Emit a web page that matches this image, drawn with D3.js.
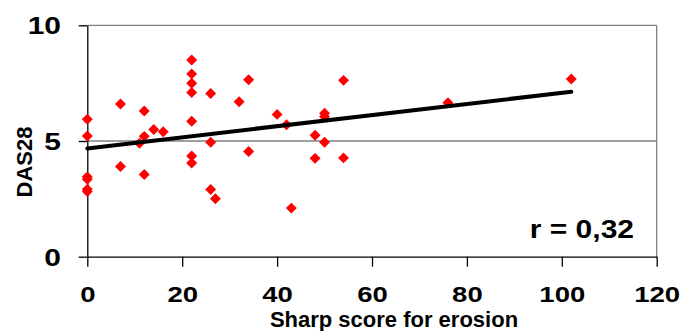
<!DOCTYPE html>
<html lang="en">
<head>
<meta charset="utf-8">
<title>DAS28 vs Sharp erosion score</title>
<script src="https://d3js.org/d3.v7.min.js"></script>
<style>
  body { margin: 0; background: #fff; }
  text { font-family: "Liberation Sans", Arial, sans-serif; }
</style>
</head>
<body>
<script>
// values
var sharpScore = [0, 0, 0, 0, 0, 0, 7, 7, 11, 12, 12, 12, 14, 16,
  22, 22, 22, 22, 22, 22, 22, 26, 26, 26, 27, 32, 34, 34, 40, 42, 43,
  48, 48, 50, 50, 50, 54, 54, 76, 102];
var das28 = [5.94, 5.22, 3.45, 3.35, 2.92, 2.82, 6.6, 3.9, 4.9, 6.3, 5.2, 3.55, 5.5, 5.4,
  8.5, 7.9, 7.5, 7.1, 5.85, 4.35, 4.05, 7.05, 4.95, 2.9, 2.5, 6.7, 7.65, 4.55, 6.15, 5.7, 2.1,
  5.25, 4.25, 6.2, 6.05, 4.95, 7.62, 4.27, 6.65, 7.68];
var trendX = [0, 102];
var trendY = [4.68, 7.13];
var xTicks = [0, 20, 40, 60, 80, 100, 120];
var yTicks = [0, 5, 10];
var rLabel = "r = 0,32";

var W = 686, H = 331;
var mLeft = 87.3, mRight = 656.7, mTop = 25.3, mBottom = 256.7;

var svg = d3.select("body").append("svg")
    .attr("width", W)
    .attr("height", H);

var x = d3.scaleLinear().domain([0, 120]).range([mLeft, mRight]);
var y = d3.scaleLinear().domain([0, 10]).range([mBottom, mTop]);

// gridlines at 5 and 10
svg.selectAll(".grid")
    .data(yTicks.filter(function(d) { return d > 0; }))
    .enter().append("line")
    .attr("x1", mLeft).attr("x2", mRight)
    .attr("y1", function(d) { return y(d); })
    .attr("y2", function(d) { return y(d); })
    .attr("stroke", "#7f7f7f")
    .attr("stroke-width", 1.3);

// right border
svg.append("line")
    .attr("x1", mRight).attr("x2", mRight)
    .attr("y1", mTop).attr("y2", mBottom)
    .attr("stroke", "#7f7f7f")
    .attr("stroke-width", 1.3);

var xAxis = svg.append("g")
    .attr("transform", "translate(0," + mBottom + ")")
    .call(d3.axisBottom(x).tickValues(xTicks).tickSize(10).tickSizeOuter(0));
xAxis.select(".domain").attr("stroke", "#000").attr("stroke-width", 1.3);
xAxis.selectAll(".tick line").attr("stroke", "#000").attr("stroke-width", 1.3);
xAxis.selectAll(".tick text")
    .attr("y", 0).attr("dy", 0)
    .attr("transform", "translate(0,45) scale(1.25,1)")
    .attr("font-size", 22)
    .attr("font-weight", "bold")
    .attr("fill", "#000")
    .attr("font-family", "Liberation Sans, Arial, sans-serif");

var yAxis = svg.append("g")
    .attr("transform", "translate(" + mLeft + ",0)")
    .call(d3.axisLeft(y).tickValues(yTicks).tickSize(8.6).tickSizeOuter(0));
yAxis.select(".domain").attr("stroke", "#000").attr("stroke-width", 1.3);
yAxis.selectAll(".tick line").attr("stroke", "#000").attr("stroke-width", 1.3);
yAxis.selectAll(".tick text")
    .attr("x", 0).attr("dy", "0.35em")
    .attr("transform", "translate(-26.3,0) scale(1.25,1)")
    .attr("font-size", 24)
    .attr("font-weight", "bold")
    .attr("fill", "#000")
    .attr("font-family", "Liberation Sans, Arial, sans-serif");

// points
var pts = sharpScore.map(function(v, i) { return [v, das28[i]]; });
svg.selectAll(".pt")
    .data(pts)
    .enter().append("path")
    .attr("class", "pt")
    .attr("d", d3.symbol().type(d3.symbolSquare).size(60))
    .attr("transform", function(d) {
        return "translate(" + x(d[0]) + "," + y(d[1]) + ") rotate(45)";
    })
    .attr("fill", "#ff0000");

// trend line
svg.append("path")
    .datum(trendX.map(function(v, i) { return [v, trendY[i]]; }))
    .attr("d", d3.line().x(function(d) { return x(d[0]); }).y(function(d) { return y(d[1]); }))
    .attr("stroke", "#000")
    .attr("stroke-width", 4)
    .attr("stroke-linecap", "round")
    .attr("fill", "none");

// labels
svg.append("text")
    .attr("transform", "translate(634,238) scale(1.2,1)")
    .attr("text-anchor", "end")
    .attr("font-size", 25)
    .attr("font-weight", "bold")
    .text(rLabel);

svg.append("text")
    .attr("x", 394).attr("y", 326.7)
    .attr("text-anchor", "middle")
    .attr("font-size", 22)
    .attr("font-weight", "bold")
    .text("Sharp score for erosion");

svg.append("text")
    .attr("transform", "translate(31.5,162) rotate(-90)")
    .attr("text-anchor", "middle")
    .attr("font-size", 22)
    .attr("font-weight", "bold")
    .text("DAS28");
</script>
</body>
</html>
